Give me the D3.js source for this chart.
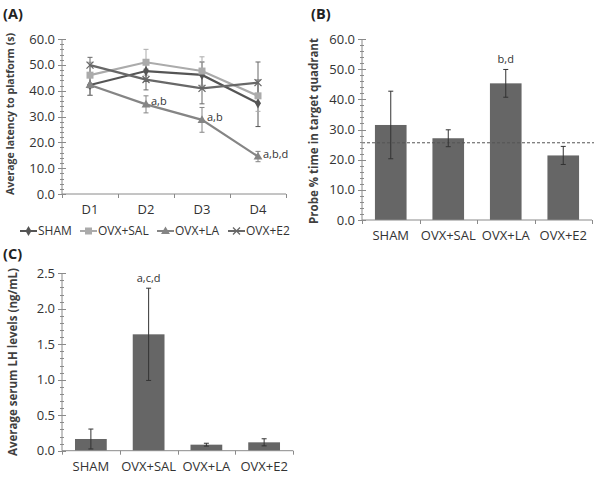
<!DOCTYPE html>
<html><head><meta charset="utf-8">
<script src="https://cdn.jsdelivr.net/npm/d3@7"></script>
<style>
body{margin:0;background:#fff;}
svg{display:block;font-family:"Open Sans",sans-serif;}
</style></head><body>
<svg id="c" width="602" height="478"></svg>
<script>
// ---------- DATA ----------
const days = ["D1","D2","D3","D4"];
const groups = ["SHAM","OVX+SAL","OVX+LA","OVX+E2"];
const latSHAM = [42.2, 47.6, 46.1, 35.1];
const latSAL  = [46.0, 51.0, 47.6, 38.0];
const latLA   = [42.2, 34.7, 28.7, 14.5];
const latE2   = [49.9, 44.3, 40.9, 43.1];
const errSHAM = [4.0, 4.0, 5.0, 9.0];
const errSAL  = [5.0, 5.0, 5.5, 6.0];
const errLA   = [4.0, 3.3, 4.8, 2.0];
const errE2   = [3.0, 4.0, 6.0, 8.0];
const latAnnot = [null, "a,b", "a,b", "a,b,d"];
const probeVals = [31.5, 27.1, 45.3, 21.4];
const probeErr  = [11.2, 2.8, 4.6, 3.0];
const probeAnnot = [null, null, "b,d", null];
const chanceLevel = 25.6;
const lhVals = [0.165, 1.64, 0.085, 0.118];
const lhErr  = [0.14, 0.65, 0.02, 0.05];
const lhAnnot = [null, "a,c,d", null, null];
const ticksA = [0,10,20,30,40,50,60];
const ticksB = [0,10,20,30,40,50,60];
const ticksC = [0,0.5,1.0,1.5,2.0,2.5];

const svg = d3.select("#c");
const textCol = "#333", axisCol = "#8a8a8a";

function yAxis(g, y, x0, ticks, minorStep, fmt){
  const [d0,d1] = y.domain();
  g.append("line").attr("x1",x0).attr("x2",x0).attr("y1",y(d0)).attr("y2",y(d1)).attr("stroke",axisCol);
  const minors = d3.range(d0, d1+minorStep/2, minorStep);
  g.selectAll(null).data(minors).enter().append("line")
    .attr("x1",x0-2).attr("x2",x0+2).attr("y1",d=>Math.round(y(d))+0.5).attr("y2",d=>Math.round(y(d))+0.5).attr("stroke",axisCol);
  g.selectAll(null).data(ticks).enter().append("line")
    .attr("x1",x0-4).attr("x2",x0+4).attr("y1",d=>Math.round(y(d))+0.5).attr("y2",d=>Math.round(y(d))+0.5).attr("stroke",axisCol);
  g.selectAll(null).data(ticks).enter().append("text")
    .attr("x",x0-7).attr("y",d=>y(d)).attr("dy","0.35em").attr("text-anchor","end")
    .attr("font-size",13).attr("fill",textCol).text(d=>fmt(d));
}
function xAxis(g, x, yb, cats){
  const r = x.range();
  g.append("line").attr("x1",r[0]).attr("x2",r[1]).attr("y1",yb).attr("y2",yb).attr("stroke",axisCol);
  const edges = d3.range(cats.length+1).map(i=>r[0]+i*(r[1]-r[0])/cats.length);
  g.selectAll(null).data(edges).enter().append("line")
    .attr("x1",d=>Math.round(d)+0.5).attr("x2",d=>Math.round(d)+0.5).attr("y1",yb).attr("y2",yb+4).attr("stroke",axisCol);
  g.selectAll(null).data(cats).enter().append("text")
    .attr("x",d=>x(d)+x.bandwidth()/2).attr("y",yb+20).attr("text-anchor","middle")
    .attr("font-size",13).attr("fill",textCol).text(d=>d);
}
function yTitle(g, cx, cy, txt, fs){
  g.append("text").attr("transform",`translate(${cx},${cy}) rotate(-90)`).attr("text-anchor","middle")
   .attr("font-size",fs).attr("font-weight","bold").attr("fill","#404040").text(txt);
}
function panelLabel(g, x, y, txt){
  g.append("text").attr("x",x).attr("y",y).attr("font-size",14.5).attr("font-weight","bold").attr("fill","#222").text(txt);
}

// ---------- Panel A ----------
{
  const g = svg.append("g");
  const x = d3.scaleBand().domain(days).range([62,286]).paddingInner(0).paddingOuter(0);
  const y = d3.scaleLinear().domain([0,60]).range([194,39]);
  panelLabel(g, 3, 19, "(A)");
  yAxis(g, y, 62, ticksA, 2, d=>d.toFixed(1));
  xAxis(g, x, 194, days);
  yTitle(g, 14, 114, "Average latency to platform (s)", 10.5);
  const series = [
    {name:"SHAM", v:latSHAM, e:errSHAM, col:"#555555", sym:"diamond"},
    {name:"OVX+SAL", v:latSAL, e:errSAL, col:"#ababab", sym:"square"},
    {name:"OVX+LA", v:latLA, e:errLA, col:"#858585", sym:"triangle"},
    {name:"OVX+E2", v:latE2, e:errE2, col:"#686868", sym:"x"}
  ];
  const cx = d => x(d)+x.bandwidth()/2;
  const line = d3.line().x((d,i)=>cx(days[i])).y(d=>y(d));
  function marker(sel, s, px, py){
    if(s.sym==="diamond") sel.append("path").attr("d",d3.symbol(d3.symbolDiamond,30)()).attr("transform",`translate(${px},${py})`).attr("fill",s.col);
    else if(s.sym==="square") sel.append("rect").attr("x",px-3.5).attr("y",py-3.5).attr("width",7).attr("height",7).attr("fill",s.col);
    else if(s.sym==="triangle") sel.append("path").attr("d",d3.symbol(d3.symbolTriangle,34)()).attr("transform",`translate(${px},${py+0.5})`).attr("fill",s.col);
    else sel.append("path").attr("d",`M${px-3.5},${py-3.5}L${px+3.5},${py+3.5}M${px-3.5},${py+3.5}L${px+3.5},${py-3.5}`).attr("stroke",s.col).attr("stroke-width",1.3);
  }
  series.forEach(s=>{
    s.v.forEach((v,i)=>{
      const px = cx(days[i]);
      g.append("line").attr("x1",px).attr("x2",px).attr("y1",y(v-s.e[i])).attr("y2",y(v+s.e[i])).attr("stroke",s.col).attr("stroke-width",1);
      [v-s.e[i], v+s.e[i]].forEach(t=>g.append("line").attr("x1",px-2.5).attr("x2",px+2.5).attr("y1",y(t)).attr("y2",y(t)).attr("stroke",s.col));
    });
  });
  series.forEach(s=>{
    g.append("path").datum(s.v).attr("d",line).attr("fill","none").attr("stroke",s.col).attr("stroke-width",2.2);
    s.v.forEach((v,i)=>marker(g, s, cx(days[i]), y(v)));
  });
  latAnnot.forEach((a,i)=>{ if(!a) return;
    g.append("text").attr("x",cx(days[i])+5).attr("y",y(latLA[i])+1).attr("font-size",11).attr("fill",textCol).text(a);
  });
  // legend
  const lx = [20, 80, 157, 228];
  series.forEach((s,i)=>{
    const lg = g.append("g");
    lg.append("line").attr("x1",lx[i]).attr("x2",lx[i]+17).attr("y1",231).attr("y2",231).attr("stroke",s.col).attr("stroke-width",2);
    marker(lg, s, lx[i]+8.5, 231);
    lg.append("text").attr("x",lx[i]+18).attr("y",231).attr("dy","0.35em").attr("font-size",12).attr("fill",textCol).text(s.name);
  });
}

function barPanel(label, lx, ly, xr, yr, dom, vals, errs, annots, ticks, minorStep, fmt, title, tx, ty, chance){
  const g = svg.append("g");
  const x = d3.scaleBand().domain(groups).range(xr).paddingInner(0.45).paddingOuter(0.225);
  const y = d3.scaleLinear().domain(dom).range(yr);
  panelLabel(g, lx, ly, label);
  g.selectAll(null).data(groups).enter().append("rect")
    .attr("x",d=>x(d)).attr("width",x.bandwidth()).attr("y",(d,i)=>y(vals[i])).attr("height",(d,i)=>y(0)-y(vals[i])).attr("fill","#666666");
  if(chance!=null){
    g.append("line").attr("x1",xr[0]).attr("x2",xr[1]+2).attr("y1",y(chance)).attr("y2",y(chance))
     .attr("stroke","#555").attr("stroke-width",1).attr("stroke-dasharray","3,2");
  }
  groups.forEach((gr,i)=>{
    const px = x(gr)+x.bandwidth()/2;
    const lo = Math.max(0, vals[i]-errs[i]), hi = vals[i]+errs[i];
    g.append("line").attr("x1",px).attr("x2",px).attr("y1",y(lo)).attr("y2",y(hi)).attr("stroke","#333");
    [lo,hi].forEach(t=>g.append("line").attr("x1",px-2.5).attr("x2",px+2.5).attr("y1",y(t)).attr("y2",y(t)).attr("stroke","#333"));
    if(annots[i]) g.append("text").attr("x",px).attr("y",y(hi)-6).attr("text-anchor","middle").attr("font-size",11).attr("fill",textCol).text(annots[i]);
  });
  yAxis(g, y, xr[0], ticks, minorStep, fmt);
  xAxis(g, x, yr[0], groups);
  yTitle(g, tx, ty, title, 11.5);
}
barPanel("(B)", 311, 19, [362,592], [220,39], [0,60], probeVals, probeErr, probeAnnot, ticksB, 2, d=>d.toFixed(1),
  "Probe % time in target quadrant", 318, 131, chanceLevel);
barPanel("(C)", 3, 259, [62,293], [450.7,273.3], [0,2.5], lhVals, lhErr, lhAnnot, ticksC, 0.1, d=>d.toFixed(1),
  "Average serum LH levels (ng/mL)", 17, 362, null);
</script></body></html>
